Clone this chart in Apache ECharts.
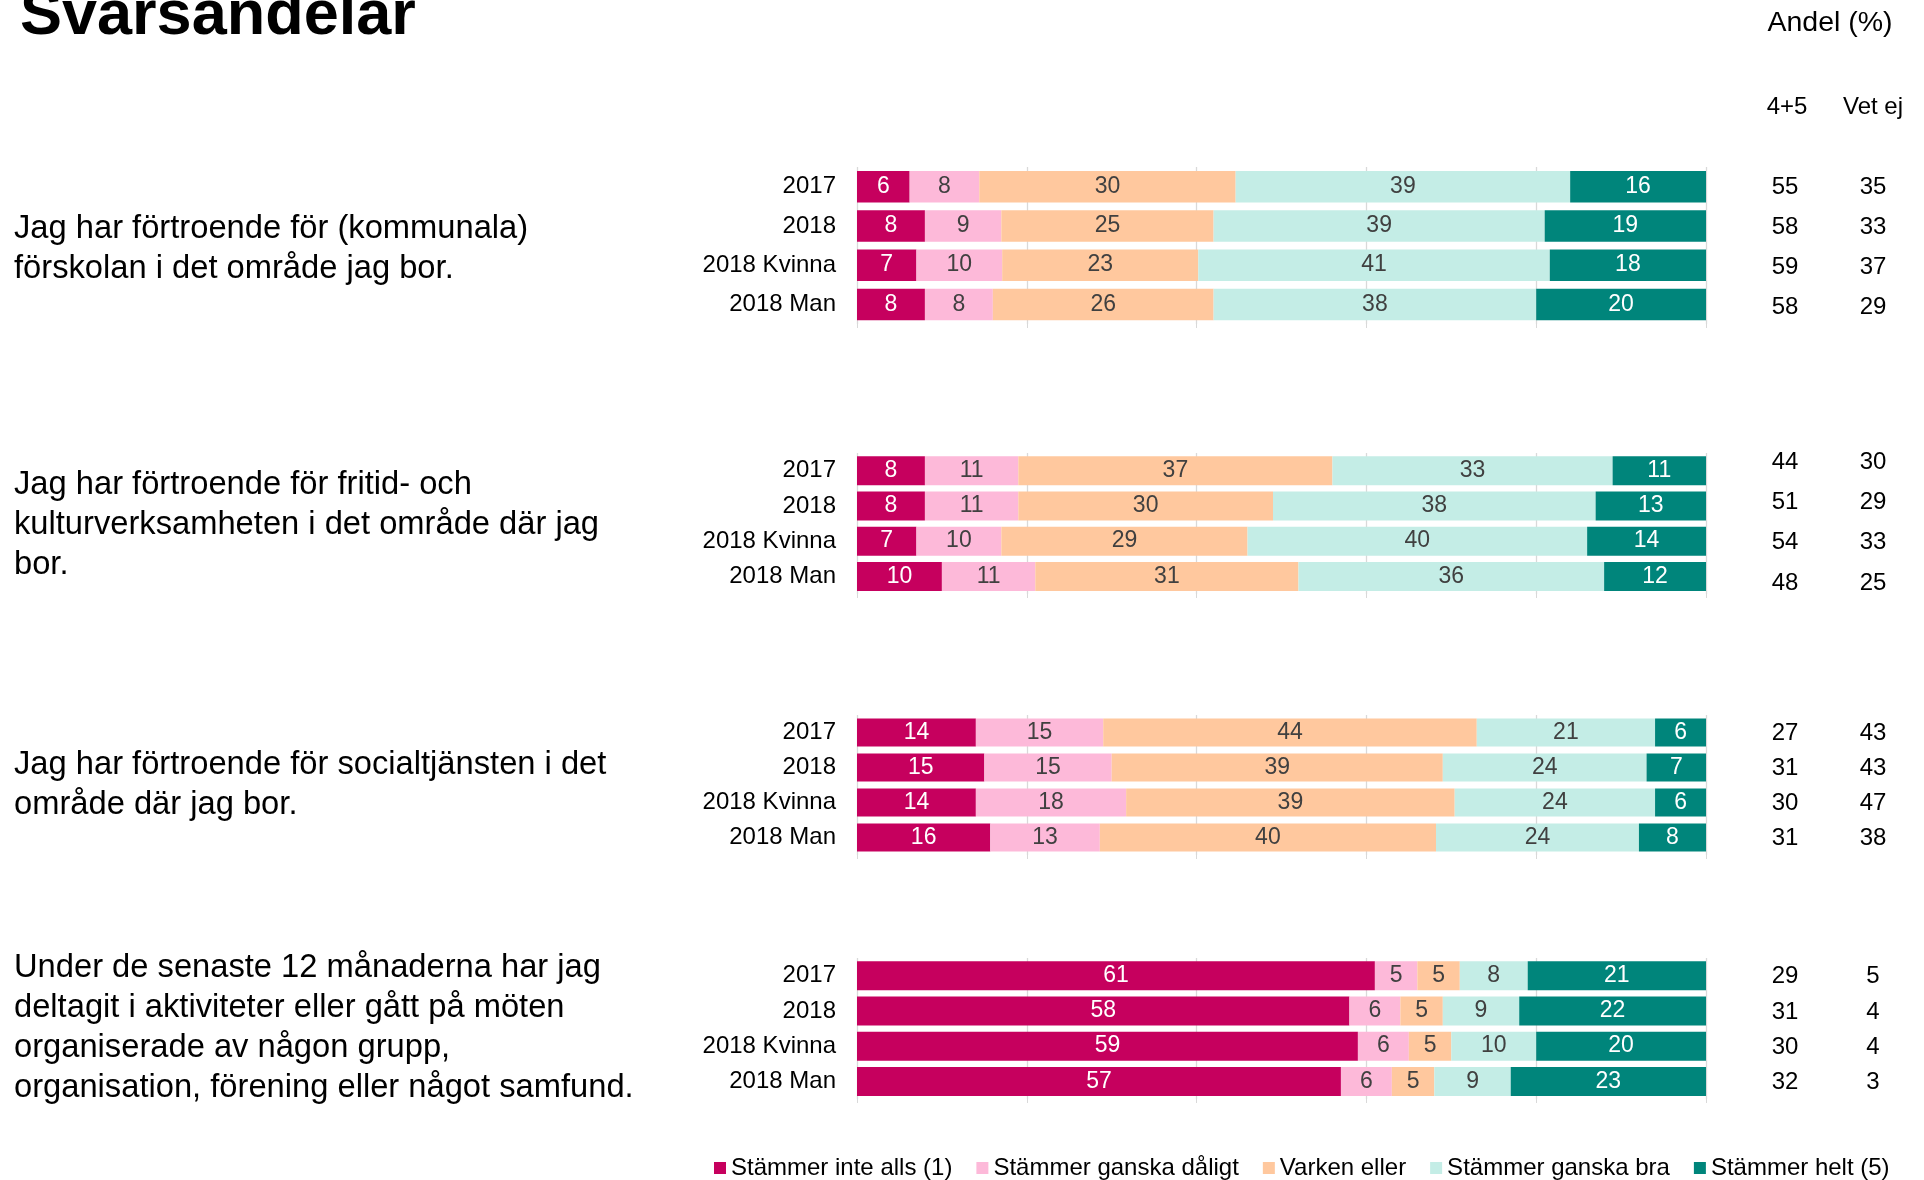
<!DOCTYPE html>
<html><head><meta charset="utf-8">
<script src="https://cdn.jsdelivr.net/npm/echarts@6/dist/echarts.min.js"></script>
<style>html,body{margin:0;padding:0;background:#fff}#c{width:1924px;height:1180px}</style>
</head><body><div id="c"></div>
<script>
const categories = ['2017', '2018', '2018 Kvinna', '2018 Man'];
const seriesNames = ['Stämmer inte alls (1)', 'Stämmer ganska dåligt', 'Varken eller', 'Stämmer ganska bra', 'Stämmer helt (5)'];
const colors = ['#C6005E', '#FDB9D9', '#FFC89E', '#C4EDE6', '#00857B'];
const labelColors = ['#FFFFFF', '#404040', '#404040', '#404040', '#FFFFFF'];

const questions = [
  'Jag har förtroende för (kommunala)\nförskolan i det område jag bor.',
  'Jag har förtroende för fritid- och\nkulturverksamheten i det område där jag\nbor.',
  'Jag har förtroende för socialtjänsten i det\nområde där jag bor.',
  'Under de senaste 12 månaderna har jag\ndeltagit i aktiviteter eller gått på möten\norganiserade av någon grupp,\norganisation, förening eller något samfund.'
];

// rows = categories, columns = response options (1..5)
const q1Values = [[6.2, 8.2, 30.2, 39.4, 16.0], [8, 9, 25, 39, 19], [7.0, 10.1, 23.1, 41.4, 18.4], [8, 8, 26, 38, 20]];
const q2Values = [[8, 11, 37, 33, 11], [8, 11, 30, 38, 13], [7, 10, 29, 40, 14], [10, 11, 31, 36, 12]];
const q3Values = [[14, 15, 44, 21, 6], [15, 15, 39, 24, 7], [14.0, 17.7, 38.7, 23.6, 6.0], [15.7, 12.9, 39.6, 23.9, 7.9]];
const q4Values = [[61, 5, 5, 8, 21], [58, 6, 5, 9, 22], [59, 6, 5, 10, 20], [57, 6, 5, 9, 23]];

const q1Sum45 = [55, 58, 59, 58];
const q1VetEj = [35, 33, 37, 29];
const q2Sum45 = [44, 51, 54, 48];
const q2VetEj = [30, 29, 33, 25];
const q3Sum45 = [27, 31, 30, 31];
const q3VetEj = [43, 43, 47, 38];
const q4Sum45 = [29, 31, 30, 32];
const q4VetEj = [5, 4, 4, 3];

const allValues = [q1Values, q2Values, q3Values, q4Values];
const allSum45 = [q1Sum45, q2Sum45, q3Sum45, q4Sum45];
const allVetEj = [q1VetEj, q2VetEj, q3VetEj, q4VetEj];

const FONT = '"Liberation Sans", Arial, sans-serif';
const gridTops = [167, 453, 715, 958];
const gridHeights = [157, 141, 140, 141];
const valueGridTops = [167.5, 442, 716, 959];
const valueGridHeights = [160, 161, 140, 141];
const barWidths = [31.5, 29, 28, 29];
const questionCenters = [249, 525, 785, 1028];

const grids = [], xAxes = [], yAxes = [], series = [];
const hiddenAxis = { axisLine: { show: false }, axisTick: { show: false } };
allValues.forEach((vals, g) => {
  // bar grid
  grids.push({ left: 857, width: 849, top: gridTops[g], height: gridHeights[g] });
  xAxes.push({
    type: 'value', gridIndex: 2 * g, min: 0, max: 100, interval: 20,
    axisLabel: { show: false }, axisLine: { show: false },
    axisTick: { show: true, length: 4, lineStyle: { color: '#D9D9D9' } },
    splitLine: { show: true, lineStyle: { color: '#D9D9D9', width: 1.3 } }
  });
  yAxes.push(Object.assign({
    type: 'category', gridIndex: 2 * g, inverse: true, data: categories, position: 'left',
    axisLabel: { fontFamily: FONT, fontSize: 24, color: '#000', margin: 21, padding: [3, 0, 0, 0] }
  }, hiddenAxis));
  // value-column grid (4+5, Vet ej)
  grids.push({ left: 857, width: 849, top: valueGridTops[g], height: valueGridHeights[g] });
  xAxes.push({ type: 'value', gridIndex: 2 * g + 1, min: 0, max: 100, show: false });
  yAxes.push(Object.assign({
    type: 'category', gridIndex: 2 * g + 1, inverse: true, data: allSum45[g], position: 'right',
    axisLabel: { fontFamily: FONT, fontSize: 24, color: '#000', margin: 79, align: 'center' }
  }, hiddenAxis));
  yAxes.push(Object.assign({
    type: 'category', gridIndex: 2 * g + 1, inverse: true, data: allVetEj[g], position: 'right', offset: 88,
    axisLabel: { fontFamily: FONT, fontSize: 24, color: '#000', margin: 79, align: 'center' }
  }, hiddenAxis));
  seriesNames.forEach((name, s) => {
    series.push({
      type: 'bar', name: name, stack: 'q' + g, xAxisIndex: 2 * g, yAxisIndex: g * 3,
      barWidth: barWidths[g],
      itemStyle: { color: colors[s] },
      label: {
        show: true, position: 'inside', fontFamily: FONT, fontSize: 23, color: labelColors[s],
        padding: [3, 0, 0, 0],
        formatter: p => Math.round(p.value)
      },
      data: vals.map(r => r[s])
    });
  });
});

const graphics = [
  { type: 'text', x: 20, y: 17, style: { text: 'Svarsandelar', font: 'bold 63px ' + FONT, fill: '#000', verticalAlign: 'middle', textVerticalAlign: 'middle' } },
  { type: 'text', x: 1830, y: 23, style: { text: 'Andel (%)', font: '28.5px ' + FONT, fill: '#000', align: 'center', textAlign: 'center', verticalAlign: 'middle', textVerticalAlign: 'middle' } },
  { type: 'text', x: 1787, y: 107, style: { text: '4+5', font: '24px ' + FONT, fill: '#000', align: 'center', textAlign: 'center', verticalAlign: 'middle', textVerticalAlign: 'middle' } },
  { type: 'text', x: 1873, y: 107, style: { text: 'Vet ej', font: '24px ' + FONT, fill: '#000', align: 'center', textAlign: 'center', verticalAlign: 'middle', textVerticalAlign: 'middle' } }
];
questions.forEach((q, i) => {
  graphics.push({ type: 'text', x: 14, y: questionCenters[i], style: { text: q, font: '32.7px ' + FONT, lineHeight: 40, fill: '#000', verticalAlign: 'middle', textVerticalAlign: 'middle' } });
});

const chart = echarts.init(document.getElementById('c'), null, { renderer: 'canvas' });
chart.setOption({
  animation: false,
  backgroundColor: '#fff',
  textStyle: { fontFamily: FONT },
  legend: {
    data: seriesNames, left: 709, top: 1151, icon: 'rect', itemWidth: 12, itemHeight: 12, itemGap: 24,
    textStyle: { fontFamily: FONT, fontSize: 24, color: '#000' }, selectedMode: false
  },
  grid: grids, xAxis: xAxes, yAxis: yAxes, series: series, graphic: graphics
});
</script></body></html>
